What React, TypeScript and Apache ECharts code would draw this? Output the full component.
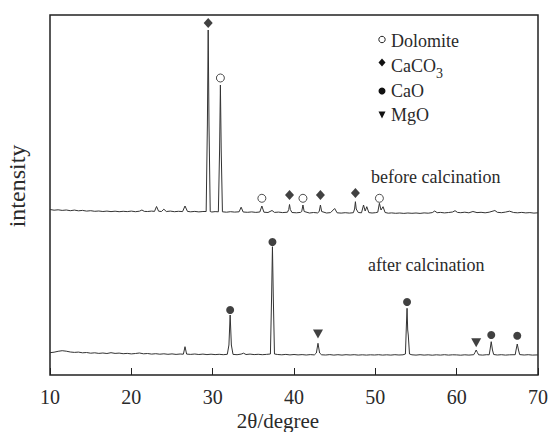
import React, { useEffect, useRef } from "react";
import * as echarts from "echarts";

// 2θ / intensity pairs (arbitrary intensity units)
const beforeCalcination: number[][] = [
  [10.0, 165.5], [10.5, 164.8], [11.0, 165.2], [11.5, 164.6], [12.0, 165.0], [12.5, 164.3],
  [13.0, 164.9], [13.5, 164.2], [14.0, 164.6], [14.5, 163.9], [15.0, 164.3], [15.5, 163.7],
  [16.0, 164.0], [16.5, 163.5], [17.0, 163.9], [17.5, 163.4], [18.0, 163.8], [18.5, 163.3],
  [19.0, 163.7], [19.5, 163.4], [20.0, 163.9], [20.5, 163.3], [21.0, 163.8], [21.3, 165.0],
  [21.6, 163.6], [22.0, 163.5], [22.5, 163.9], [22.85, 163.6], [23.1, 168.5], [23.35, 163.8],
  [23.7, 163.5], [24.0, 165.8], [24.3, 163.5], [24.8, 163.9], [25.3, 163.3], [25.8, 163.7],
  [26.3, 163.4], [26.6, 169.0], [26.9, 163.6], [27.3, 163.2], [27.8, 163.6], [28.3, 163.1],
  [28.8, 163.5], [29.2, 163.5], [29.35, 250], [29.45, 345], [29.55, 250], [29.7, 163.5],
  [29.9, 163.0], [30.3, 163.4], [30.7, 163.2], [30.85, 225], [30.95, 290], [31.05, 225],
  [31.2, 163.2], [31.7, 162.8], [32.2, 163.3], [32.7, 162.9], [33.25, 163.2], [33.5, 167.8],
  [33.75, 163.0], [34.3, 162.7], [34.8, 163.1], [35.3, 162.6], [35.8, 163.0], [36.05, 169.0],
  [36.3, 162.8], [36.8, 162.5], [37.3, 164.5], [37.6, 162.6], [38.1, 162.9], [38.6, 162.4],
  [39.2, 162.8], [39.35, 165.5], [39.45, 170.5], [39.55, 165.5], [39.75, 162.5], [40.3, 162.2],
  [40.8, 162.6], [40.95, 163.5], [41.1, 170.0], [41.25, 163.5], [41.9, 162.0], [42.4, 162.5],
  [42.9, 162.1], [43.1, 163.5], [43.25, 170.0], [43.4, 163.5], [44.0, 162.0], [44.5, 162.4],
  [45.0, 166.5], [45.3, 162.2], [45.8, 161.9], [46.3, 162.3], [46.8, 161.9], [47.3, 162.3],
  [47.45, 166.0], [47.55, 173.3], [47.65, 166.0], [47.9, 162.5], [48.3, 162.2], [48.55, 170.0],
  [48.75, 164.0], [48.95, 168.3], [49.2, 162.4], [49.6, 162.0], [50.0, 162.3], [50.3, 162.8],
  [50.5, 171.7], [50.7, 165.0], [50.95, 168.3], [51.2, 162.5], [51.6, 161.8], [52.0, 162.1],
  [52.5, 161.7], [53.0, 162.0], [53.5, 161.6], [54.0, 162.0], [54.5, 161.7], [55.0, 162.0],
  [55.5, 161.6], [56.0, 162.1], [56.5, 161.8], [57.0, 162.4], [57.3, 164.0], [57.6, 162.3],
  [58.0, 162.6], [58.5, 162.1], [59.0, 162.5], [59.5, 163.0], [59.8, 164.3], [60.1, 162.6],
  [60.5, 162.3], [61.0, 162.8], [61.5, 162.2], [62.0, 163.5], [62.5, 162.4], [63.0, 162.7],
  [63.5, 162.2], [64.0, 162.8], [64.7, 164.5], [65.0, 162.7], [65.5, 162.3], [66.0, 162.9],
  [66.5, 163.8], [67.0, 162.5], [67.5, 162.2], [68.0, 162.6], [68.5, 162.1], [69.0, 162.4],
  [69.5, 161.9], [70.0, 162.2],
];

const afterCalcination: number[][] = [
  [10.0, 22.3], [10.5, 22.8], [11.0, 23.7], [11.5, 24.3], [12.0, 23.8], [12.5, 23.0],
  [13.0, 22.6], [13.5, 22.9], [14.0, 22.2], [14.5, 22.5], [15.0, 21.8], [15.5, 22.2],
  [16.0, 21.6], [16.5, 22.0], [17.0, 21.5], [17.5, 22.3], [18.0, 21.6], [18.5, 21.9],
  [19.0, 21.3], [19.5, 21.6], [20.0, 21.1], [20.5, 21.5], [21.0, 22.0], [21.5, 21.2],
  [22.0, 21.5], [22.5, 20.9], [23.0, 21.3], [23.5, 20.8], [24.0, 21.2], [24.5, 20.7],
  [25.0, 21.1], [25.5, 20.6], [26.0, 21.0], [26.4, 20.8], [26.6, 28.3], [26.8, 20.9],
  [27.3, 20.6], [27.8, 21.0], [28.3, 20.5], [28.8, 20.9], [29.3, 20.4], [29.8, 20.8],
  [30.3, 20.4], [30.8, 20.7], [31.3, 20.3], [31.8, 20.7], [32.0, 30.0], [32.15, 60.0],
  [32.3, 30.0], [32.5, 20.6], [33.0, 20.3], [33.5, 20.9], [33.8, 21.8], [34.1, 20.5],
  [34.6, 20.9], [35.1, 20.4], [35.6, 20.7], [36.1, 20.3], [36.6, 20.6], [37.1, 21.0],
  [37.25, 80.0], [37.35, 128.3], [37.45, 80.0], [37.6, 21.0], [38.0, 20.5], [38.5, 20.2],
  [39.0, 20.6], [39.5, 20.1], [40.0, 20.5], [40.5, 20.1], [41.0, 20.4], [41.5, 20.0],
  [42.0, 20.4], [42.5, 20.1], [42.75, 22.0], [42.95, 31.7], [43.15, 22.0], [43.4, 20.2],
  [43.9, 20.0], [44.4, 20.4], [44.9, 19.9], [45.4, 20.3], [45.9, 19.9], [46.4, 20.3],
  [46.9, 20.0], [47.4, 20.3], [47.9, 19.9], [48.4, 20.2], [48.9, 19.9], [49.4, 20.2],
  [49.9, 20.0], [50.4, 20.3], [50.9, 19.9], [51.4, 20.2], [51.9, 19.9], [52.4, 20.3],
  [52.9, 20.0], [53.4, 20.2], [53.7, 21.0], [53.82, 50.0], [53.9, 66.7], [53.98, 45.0],
  [54.05, 40.0], [54.2, 21.0], [54.5, 20.2], [55.0, 19.9], [55.5, 20.3], [56.0, 19.9],
  [56.5, 20.2], [57.0, 19.8], [57.5, 20.2], [58.0, 19.9], [58.5, 20.3], [59.0, 19.9],
  [59.5, 20.2], [60.0, 20.1], [60.5, 19.8], [61.0, 20.2], [61.5, 19.9], [62.1, 20.3],
  [62.25, 22.5], [62.4, 25.0], [62.55, 22.5], [62.7, 20.2], [63.2, 19.9], [63.7, 20.3],
  [64.0, 20.2], [64.1, 25.0], [64.25, 33.3], [64.4, 25.0], [64.55, 20.5], [65.0, 20.0],
  [65.5, 20.3], [66.0, 19.9], [66.5, 20.2], [67.2, 20.3], [67.3, 25.0], [67.45, 31.0],
  [67.6, 25.0], [67.75, 20.4], [68.3, 20.0], [68.8, 20.3], [69.3, 19.9], [70.0, 20.1],
];

const dolomiteMarks: number[][] = [[30.95, 297], [36.05, 176.7], [41.1, 176.7], [50.5, 176.7]];
const caco3Marks: number[][] = [[29.45, 352], [39.45, 180], [43.25, 180], [47.55, 182]];
const caoMarks: number[][] = [[32.15, 65], [37.35, 133], [53.9, 73], [64.25, 40], [67.45, 39.3]];
const mgoMarks: number[][] = [[42.95, 41], [62.4, 32.3]];

const xTicks = [10, 20, 30, 40, 50, 60, 70];

const SERIF_NAME = "Liberation Serif";
const SERIF = '"Liberation Serif", "Times New Roman", serif';
const INK = "#2a2a2a";

export default function App() {
  const ref = useRef<HTMLDivElement>(null);
  useEffect(() => {
    if (!ref.current) return;
    const chart = echarts.init(ref.current, null, { renderer: "svg" });
    const textStyle = (text: string, size: number) => ({
      text,
      fill: INK,
      font: `${size}px ${SERIF}`,
    });
    chart.setOption({
      animation: false,
      backgroundColor: "#ffffff",
      grid: {
        left: 50, right: 11, top: 15, bottom: 57,
        show: true, borderColor: "#222", borderWidth: 1.5, backgroundColor: "transparent",
      },
      xAxis: {
        type: "value",
        min: xTicks[0],
        max: xTicks[xTicks.length - 1],
        interval: 10,
        axisLine: { show: false },
        axisTick: { show: true, inside: true, length: 7, lineStyle: { color: "#222", width: 1 } },
        axisLabel: { fontFamily: SERIF_NAME, fontSize: 20, color: INK, margin: 12 },
        splitLine: { show: false },
      },
      yAxis: {
        type: "value",
        min: 0,
        max: 360,
        axisLine: { show: false },
        axisTick: { show: false },
        axisLabel: { show: false },
        splitLine: { show: false },
      },
      series: [
        {
          name: "before calcination", type: "line", data: beforeCalcination, showSymbol: false,
          symbol: "none", lineStyle: { color: "#333", width: 1 },
        },
        {
          name: "after calcination", type: "line", data: afterCalcination, showSymbol: false,
          symbol: "none", lineStyle: { color: "#333", width: 1 },
        },
        {
          name: "Dolomite", type: "scatter", data: dolomiteMarks, symbol: "circle", symbolSize: 8,
          itemStyle: { color: "#fff", borderColor: "#222", borderWidth: 1 },
        },
        {
          name: "CaCO3", type: "scatter", data: caco3Marks, symbol: "diamond", symbolSize: [9, 10],
          itemStyle: { color: "#111" },
        },
        {
          name: "CaO", type: "scatter", data: caoMarks, symbol: "circle", symbolSize: 8,
          itemStyle: { color: "#111" },
        },
        {
          name: "MgO", type: "scatter", data: mgoMarks, symbol: "triangle", symbolRotate: 180,
          symbolSize: [10, 9], itemStyle: { color: "#111" },
        },
      ],
      graphic: [
        {
          type: "text", x: 17, y: 186, rotation: Math.PI / 2,
          style: { ...textStyle("intensity", 24), textAlign: "center", textVerticalAlign: "middle" },
        },
        {
          type: "text", x: 278, y: 421,
          style: { ...textStyle("2θ/degree", 21), textAlign: "center", textVerticalAlign: "middle" },
        },
        {
          type: "text", x: 371, y: 177,
          style: { ...textStyle("before calcination", 18), textAlign: "left", textVerticalAlign: "middle" },
        },
        {
          type: "text", x: 368, y: 265,
          style: { ...textStyle("after calcination", 18), textAlign: "left", textVerticalAlign: "middle" },
        },
        // legend
        { type: "circle", shape: { cx: 382, cy: 39.5, r: 3.2 }, style: { fill: "#fff", stroke: "#222", lineWidth: 1 } },
        { type: "text", x: 391, y: 41, style: { ...textStyle("Dolomite", 18), textVerticalAlign: "middle" } },
        { type: "polygon", shape: { points: [[382, 58.5], [385.5, 62.5], [382, 66.5], [378.5, 62.5]] }, style: { fill: "#111" } },
        { type: "text", x: 391, y: 65.5, style: { ...textStyle("CaCO", 18), textVerticalAlign: "middle" } },
        { type: "text", x: 436, y: 73, style: { ...textStyle("3", 14), textVerticalAlign: "middle" } },
        { type: "circle", shape: { cx: 382, cy: 91, r: 3.5 }, style: { fill: "#111" } },
        { type: "text", x: 391, y: 91, style: { ...textStyle("CaO", 18), textVerticalAlign: "middle" } },
        { type: "polygon", shape: { points: [[378.5, 111.5], [385.5, 111.5], [382, 118.5]] }, style: { fill: "#111" } },
        { type: "text", x: 391, y: 115, style: { ...textStyle("MgO", 18), textVerticalAlign: "middle" } },
      ],
    });
    return () => chart.dispose();
  }, []);
  return <div ref={ref} style={{ width: 551, height: 432, position: "absolute", left: 0, top: 0 }} />;
}
